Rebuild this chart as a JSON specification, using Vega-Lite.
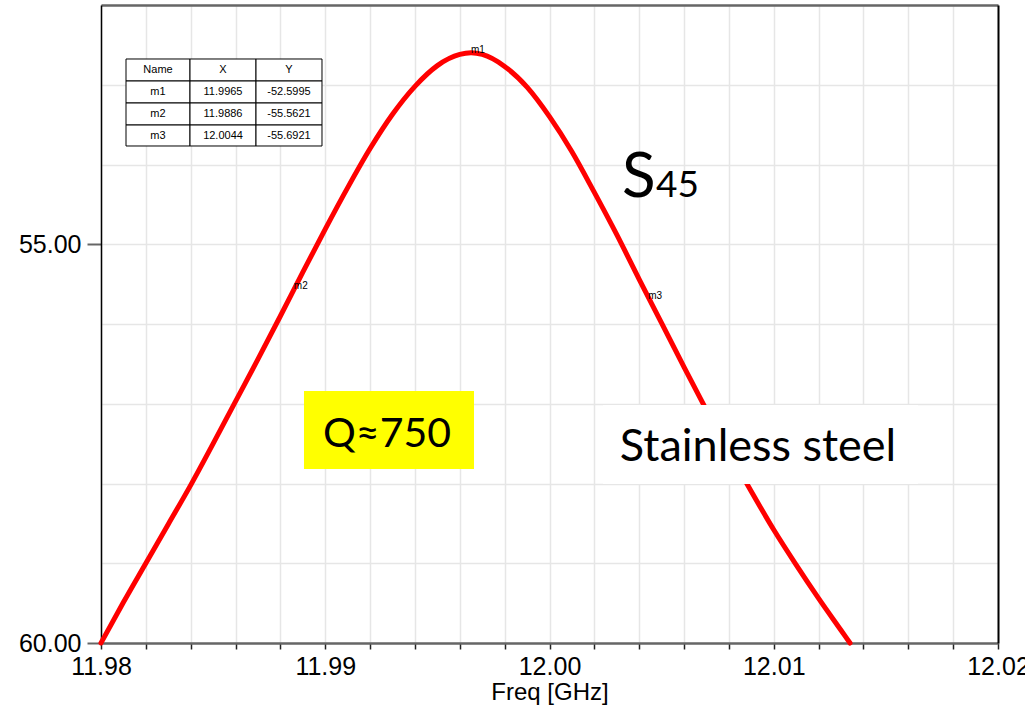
{
  "$schema": "https://vega.github.io/schema/vega-lite/v6.json",
  "width": 897,
  "height": 638,
  "autosize": {"type": "none"},
  "padding": {"left": 101, "top": 5, "right": 27, "bottom": 64},
  "background": "white",
  "config": {"view": {"stroke": null}, "font": "Liberation Sans"},
  "resolve": {"axis": {"x": "independent", "y": "independent"}},
  "datasets": {
    "curve": [
      {"f": 11.98, "s": -60.0},
      {"f": 11.981, "s": -59.49},
      {"f": 11.982, "s": -59.0},
      {"f": 11.983, "s": -58.51},
      {"f": 11.984, "s": -58.02},
      {"f": 11.985, "s": -57.5},
      {"f": 11.986, "s": -56.97},
      {"f": 11.987, "s": -56.44},
      {"f": 11.988, "s": -55.9},
      {"f": 11.989, "s": -55.35},
      {"f": 11.99, "s": -54.81},
      {"f": 11.991, "s": -54.29},
      {"f": 11.992, "s": -53.8},
      {"f": 11.993, "s": -53.37},
      {"f": 11.994, "s": -53.02},
      {"f": 11.995, "s": -52.76},
      {"f": 11.996, "s": -52.62},
      {"f": 11.9965, "s": -52.6},
      {"f": 11.997, "s": -52.62},
      {"f": 11.998, "s": -52.77},
      {"f": 11.999, "s": -53.03},
      {"f": 12.0, "s": -53.4},
      {"f": 12.001, "s": -53.84},
      {"f": 12.002, "s": -54.35},
      {"f": 12.003, "s": -54.88},
      {"f": 12.004, "s": -55.44},
      {"f": 12.005, "s": -55.99},
      {"f": 12.006, "s": -56.54},
      {"f": 12.007, "s": -57.08},
      {"f": 12.008, "s": -57.6},
      {"f": 12.009, "s": -58.1},
      {"f": 12.01, "s": -58.58},
      {"f": 12.011, "s": -59.02},
      {"f": 12.012, "s": -59.44},
      {"f": 12.013, "s": -59.84},
      {"f": 12.0134, "s": -60.0}
    ],
    "markers": [
      {"name": "m1", "f": 11.9965, "s": -52.5995},
      {"name": "m2", "f": 11.9886, "s": -55.5621},
      {"name": "m3", "f": 12.0044, "s": -55.6921}
    ],
    "table": [
      {"t": "Name", "f0": 11.981115, "f1": 11.983969, "fc": 11.982542, "d0": -52.677, "d1": -52.953, "dc": -52.815},
      {"t": "X", "f0": 11.983969, "f1": 11.986912, "fc": 11.985441, "d0": -52.677, "d1": -52.953, "dc": -52.815},
      {"t": "Y", "f0": 11.986912, "f1": 11.989855, "fc": 11.988384, "d0": -52.677, "d1": -52.953, "dc": -52.815},
      {"t": "m1", "f0": 11.981115, "f1": 11.983969, "fc": 11.982542, "d0": -52.953, "d1": -53.229, "dc": -53.091},
      {"t": "11.9965", "f0": 11.983969, "f1": 11.986912, "fc": 11.985441, "d0": -52.953, "d1": -53.229, "dc": -53.091},
      {"t": "-52.5995", "f0": 11.986912, "f1": 11.989855, "fc": 11.988384, "d0": -52.953, "d1": -53.229, "dc": -53.091},
      {"t": "m2", "f0": 11.981115, "f1": 11.983969, "fc": 11.982542, "d0": -53.229, "d1": -53.505, "dc": -53.367},
      {"t": "11.9886", "f0": 11.983969, "f1": 11.986912, "fc": 11.985441, "d0": -53.229, "d1": -53.505, "dc": -53.367},
      {"t": "-55.5621", "f0": 11.986912, "f1": 11.989855, "fc": 11.988384, "d0": -53.229, "d1": -53.505, "dc": -53.367},
      {"t": "m3", "f0": 11.981115, "f1": 11.983969, "fc": 11.982542, "d0": -53.505, "d1": -53.768, "dc": -53.637},
      {"t": "12.0044", "f0": 11.983969, "f1": 11.986912, "fc": 11.985441, "d0": -53.505, "d1": -53.768, "dc": -53.637},
      {"t": "-55.6921", "f0": 11.986912, "f1": 11.989855, "fc": 11.988384, "d0": -53.505, "d1": -53.768, "dc": -53.637}
    ]
  },
  "layer": [
    {
      "data": {"name": "curve"},
      "mark": {"type": "line", "color": "#ff0000", "strokeWidth": 5, "interpolate": "monotone", "strokeCap": "round", "clip": false},
      "encoding": {
        "x": {
          "field": "f", "type": "quantitative",
          "scale": {"domain": [11.98, 12.02], "nice": false, "zero": false},
          "axis": {
            "orient": "bottom",
            "title": "Freq [GHz]",
            "titleFontSize": 24, "titleFontWeight": "normal", "titleColor": "#000000", "titlePadding": 1,
            "values": [11.98, 11.982, 11.984, 11.986, 11.988, 11.99, 11.992, 11.994, 11.996, 11.998, 12.0, 12.002, 12.004, 12.006, 12.008, 12.01, 12.012, 12.014, 12.016, 12.018, 12.02],
            "labelExpr": "abs(datum.value * 100 - round(datum.value * 100)) < 0.000001 ? format(datum.value, '.2f') : ''",
            "labelFontSize": 25, "labelColor": "#000000", "labelPadding": 5, "labelOverlap": false, "labelFlush": false, "labelBound": false,
            "tickSize": 6, "tickColor": "#222222", "tickWidth": 1.5,
            "domainColor": "#666666", "domainWidth": 2.5,
            "grid": true, "gridColor": "#e6e6e6", "gridWidth": 1.5
          }
        },
        "y": {
          "field": "s", "type": "quantitative",
          "scale": {"domain": [-60, -52], "nice": false, "zero": false},
          "axis": {
            "orient": "left", "title": null,
            "values": [-60, -55],
            "labelExpr": "format(abs(datum.value), '.2f')",
            "labelFontSize": 25, "labelColor": "#000000", "labelPadding": 6,
            "tickSize": 14, "tickColor": "#666666", "tickWidth": 2,
            "domainColor": "#000000", "domainWidth": 1.5,
            "grid": false
          }
        }
      }
    },
    {
      "data": {"name": "table"},
      "mark": {"type": "rect", "fill": "#ffffff", "stroke": "#000000", "strokeWidth": 1},
      "encoding": {
        "x": {"field": "f0", "type": "quantitative", "axis": {"orient": "top", "title": null, "labels": false, "ticks": false, "grid": false, "domainColor": "#666666", "domainWidth": 2.5}},
        "x2": {"field": "f1"},
        "y": {"field": "d0", "type": "quantitative", "axis": {"orient": "right", "title": null, "labels": false, "ticks": false, "domainColor": "#000000", "domainWidth": 2, "grid": true, "gridColor": "#e6e6e6", "gridWidth": 1.5, "values": [-60, -59, -58, -57, -56, -55, -54, -53, -52]}},
        "y2": {"field": "d1"}
      }
    },
    {
      "data": {"name": "table"},
      "mark": {"type": "text", "fontSize": 11, "color": "#000000", "align": "center", "baseline": "middle"},
      "encoding": {
        "x": {"field": "fc", "type": "quantitative", "axis": null},
        "y": {"field": "dc", "type": "quantitative", "axis": null},
        "text": {"field": "t"}
      }
    },
    {
      "data": {"name": "markers"},
      "mark": {"type": "text", "fontSize": 10, "color": "#000000", "align": "left", "baseline": "alphabetic"},
      "encoding": {
        "x": {"field": "f", "type": "quantitative", "axis": null},
        "y": {"field": "s", "type": "quantitative", "axis": null},
        "text": {"field": "name"}
      }
    },
    {
      "data": {"values": [{"f0": 11.989052, "f1": 11.996633, "d0": -56.84, "d1": -57.818}]},
      "mark": {"type": "rect", "fill": "#ffff00"},
      "encoding": {
        "x": {"field": "f0", "type": "quantitative", "axis": null},
        "x2": {"field": "f1"},
        "y": {"field": "d0", "type": "quantitative", "axis": null},
        "y2": {"field": "d1"}
      }
    },
    {
      "data": {"values": [{"f": 11.992754, "d": -57.542, "t": "Q≈750"}]},
      "mark": {"type": "text", "font": "Lato", "fontSize": 41, "color": "#000000", "align": "center", "baseline": "alphabetic"},
      "encoding": {
        "x": {"field": "f", "type": "quantitative", "axis": null},
        "y": {"field": "d", "type": "quantitative", "axis": null},
        "text": {"field": "t"}
      }
    },
    {
      "data": {"values": [{"f0": 12.002386, "f1": 12.016433, "d0": -57.016, "d1": -58.006}]},
      "mark": {"type": "rect", "fill": "#ffffff"},
      "encoding": {
        "x": {"field": "f0", "type": "quantitative", "axis": null},
        "x2": {"field": "f1"},
        "y": {"field": "d0", "type": "quantitative", "axis": null},
        "y2": {"field": "d1"}
      }
    },
    {
      "data": {"values": [{"f": 12.009298, "d": -57.718, "t": "Stainless steel"}]},
      "mark": {"type": "text", "font": "Lato", "fontSize": 45, "color": "#000000", "align": "center", "baseline": "alphabetic"},
      "encoding": {
        "x": {"field": "f", "type": "quantitative", "axis": null},
        "y": {"field": "d", "type": "quantitative", "axis": null},
        "text": {"field": "t"}
      }
    },
    {
      "data": {"values": [{"f": 12.003233, "d": -54.4075, "t": "S"}]},
      "mark": {"type": "text", "font": "Lato", "fontSize": 62, "color": "#000000", "align": "left", "baseline": "alphabetic"},
      "encoding": {
        "x": {"field": "f", "type": "quantitative", "axis": null},
        "y": {"field": "d", "type": "quantitative", "axis": null},
        "text": {"field": "t"}
      }
    },
    {
      "data": {"values": [{"f": 12.004749, "d": -54.4075, "t": "45"}]},
      "mark": {"type": "text", "font": "Lato", "fontSize": 37, "color": "#000000", "align": "left", "baseline": "alphabetic"},
      "encoding": {
        "x": {"field": "f", "type": "quantitative", "axis": null},
        "y": {"field": "d", "type": "quantitative", "axis": null},
        "text": {"field": "t"}
      }
    }
  ]
}
